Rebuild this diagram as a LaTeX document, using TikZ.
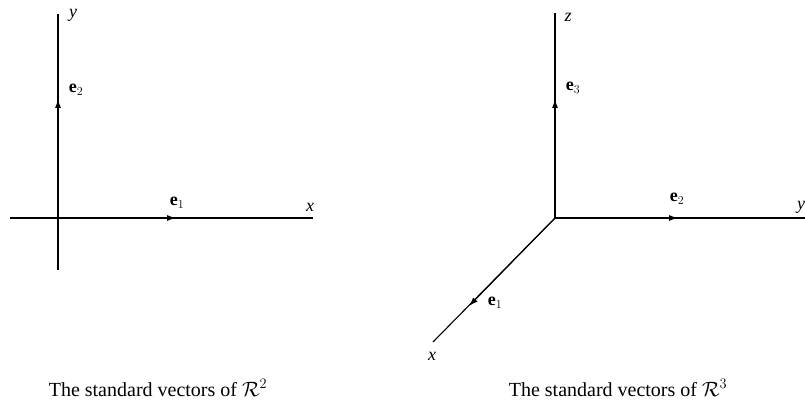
\documentclass[tikz,border=0pt]{standalone}
\usepackage{fontspec}
\setmainfont{Liberation Serif}
\usetikzlibrary{arrows.meta}
\begin{document}
\begin{tikzpicture}[x=1pt,y=-1pt,
  axis/.style={line width=1.1pt},
  vec/.style={line width=1.1pt,-{Latex[length=9pt,width=6pt]}},
  lab/.style={font=\fontsize{18}{20}\selectfont,inner sep=0pt},
  captext/.style={font=\fontsize{20}{24}\selectfont,inner sep=0pt,anchor=base}]
\useasboundingbox (0,0) rectangle (805,401);
% ---- R^2 ----
\coordinate (O1) at (58,218);
\coordinate (Y1t) at (58,14);
\coordinate (Y1b) at (58,270);
\coordinate (X1l) at (10,218);
\coordinate (X1r) at (313,218);
\coordinate (E1a) at (176,218);
\coordinate (E2a) at (58,99);
\draw[axis] (Y1b) -- (Y1t);
\draw[axis] (X1l) -- (X1r);
\draw[vec] (O1) -- (E1a);
\draw[vec] (O1) -- (E2a);
\node[lab] (ly1) at (73,15) {\textit{y}};
\node[lab] (le2a) at (76,90) {\textbf{e}$_2$};
\node[lab] (le1a) at (177,203) {\textbf{e}$_1$};
\node[lab] (lx1) at (310,207) {\textit{x}};
\node[captext] (c1) at (158,396) {The standard vectors of $\mathcal{R}^2$};
% ---- R^3 ----
\coordinate (O2) at (555,218);
\coordinate (Z2t) at (555,13);
\coordinate (Y2r) at (805,218);
\coordinate (X2e) at (433,342);
\coordinate (E3b) at (555,99);
\coordinate (E2b) at (678,218);
\coordinate (E1b) at (469,306);
\draw[axis] (O2) -- (Z2t);
\draw[axis] (O2) -- (Y2r);
\draw[axis] (O2) -- (X2e);
\draw[vec] (O2) -- (E3b);
\draw[vec] (O2) -- (E2b);
\draw[vec] (O2) -- (E1b);
\node[lab] (lz2) at (568,17) {\textit{z}};
\node[lab] (le3b) at (573,88) {\textbf{e}$_3$};
\node[lab] (le2b) at (677,199) {\textbf{e}$_2$};
\node[lab,anchor=west] (ly2) at (797,207) {\textit{y}};
\node[lab] (le1b) at (495,303) {\textbf{e}$_1$};
\node[lab] (lx2) at (432,356) {\textit{x}};
\node[captext] (c2) at (618,396) {The standard vectors of $\mathcal{R}^3$};
\end{tikzpicture}
\end{document}
